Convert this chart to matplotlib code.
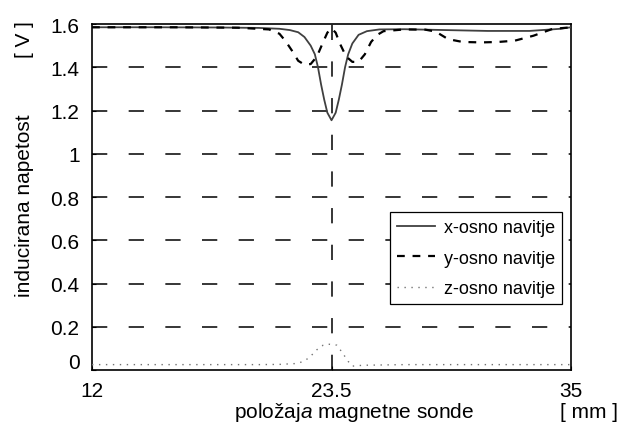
import numpy as np
import matplotlib.pyplot as plt
import matplotlib.transforms as mtransforms

plt.rcParams['font.family'] = ['Liberation Sans', 'DejaVu Sans']
plt.rcParams['mathtext.fontset'] = 'custom'
plt.rcParams['mathtext.rm'] = 'Liberation Sans'
plt.rcParams['mathtext.it'] = 'Liberation Sans:italic'

# x-osno navitje (solid)
x_pos = [12, 15, 18, 20, 21, 21.5, 21.9, 22.2, 22.5, 22.7, 22.85, 23.0, 23.15, 23.3, 23.5,
         23.7, 23.85, 24.0, 24.15, 24.3, 24.5, 24.8, 25.2, 25.8, 27, 29, 31, 33, 34.5, 35]
x_val = [1.585, 1.585, 1.584, 1.582, 1.578, 1.572, 1.562, 1.54, 1.50, 1.46, 1.40, 1.32, 1.25, 1.19, 1.155,
         1.19, 1.25, 1.32, 1.40, 1.46, 1.51, 1.55, 1.567, 1.575, 1.576, 1.572, 1.568, 1.568, 1.578, 1.585]

# y-osno navitje (dashed)
y_pos = [12, 16, 19, 20.5, 21.0, 21.3, 21.6, 21.9, 22.2, 22.5, 22.8, 23.1, 23.3, 23.5, 23.7, 23.9,
         24.2, 24.5, 24.8, 25.1, 25.4, 25.7, 26.0, 27, 28, 28.5, 29.1, 29.8, 30.7, 31.5, 32.3, 33.2, 34.1, 35]
y_val = [1.585, 1.585, 1.583, 1.575, 1.555, 1.52, 1.477, 1.43, 1.412, 1.415, 1.45, 1.517, 1.56, 1.58, 1.56, 1.51,
         1.45, 1.425, 1.425, 1.46, 1.517, 1.55, 1.567, 1.575, 1.574, 1.565, 1.53, 1.517, 1.515, 1.517, 1.523, 1.546, 1.577, 1.585]

# z-osno navitje (dotted)
z_pos = [12, 15, 18, 20, 21, 21.8, 22.1, 22.4, 22.6, 22.8, 23.1, 23.3, 23.5, 23.75, 24.0, 24.3, 24.5, 25.0, 27, 30, 33, 35]
z_val = [0.025, 0.025, 0.025, 0.025, 0.026, 0.03, 0.038, 0.055, 0.074, 0.094, 0.115, 0.12, 0.118, 0.115, 0.083,
         0.04, 0.018, 0.022, 0.025, 0.025, 0.025, 0.025]

x_ticks = [12, 23.5, 35]
y_ticks = [0, 0.2, 0.4, 0.6, 0.8, 1, 1.2, 1.4, 1.6]
y_ticklabels = ['0', '0.2', '0.4', '0.6', '0.8', '1', '1.2', '1.4', '1.6']

fig = plt.figure(figsize=(6.32, 4.27), dpi=100)
ax = fig.add_axes([0.1456, 0.1311, 0.7579, 0.8103])

# dashed grid
for v in y_ticks[1:-1]:
    ax.axhline(v, color='k', lw=1.1, dashes=(10, 14), zorder=1)
ax.axvline(23.5, color='k', lw=1.1, dashes=(10, 14), zorder=1)

ax.plot(x_pos, x_val, color='0.25', lw=1.3, label='x-osno navitje', zorder=3)
ax.plot(y_pos, y_val, color='k', lw=1.6, dashes=(3.5, 3.5), label='y-osno navitje', zorder=3)
ax.plot(z_pos, z_val, color='0.45', lw=1.0, dashes=(1, 4), label='z-osno navitje', zorder=3)

ax.set_xlim(12, 35)
ax.set_ylim(0, 1.6)
ax.set_xticks(x_ticks)
ax.set_xticklabels(['12', '23.5', '35'])
ax.set_yticks(y_ticks)
ax.set_yticklabels(y_ticklabels)
ax.tick_params(direction='in', length=3, labelsize=15, width=0.8)
ax.tick_params(axis='x', pad=8)
ax.tick_params(axis='y', pad=9)
for s in ax.spines.values():
    s.set_linewidth(1.2)

# the 0 label sits a bit higher in the original
lab0 = ax.get_yticklabels()[0]
lab0.set_transform(lab0.get_transform() + mtransforms.ScaledTranslation(0, 6.5 / 72, fig.dpi_scale_trans))

leg = ax.legend(loc='lower right', bbox_to_anchor=(0.982, 0.19), fontsize=13, frameon=True,
                fancybox=False, edgecolor='k', framealpha=1, handlelength=2.1, labelspacing=0.75,
                borderpad=0.4, handletextpad=0.5, borderaxespad=0)
leg.get_frame().set_linewidth(0.9)

fig.text(354 / 632, 1 - 418 / 427, r'položaj$\it{a}$ magnetne sonde', ha='center', va='baseline', fontsize=15)
fig.text(560 / 632, 1 - 418 / 427, '[ mm ]', ha='left', va='baseline', fontsize=15)
fig.text(25 / 632, 1 - 206 / 427, 'inducirana napetost', ha='center', va='center', rotation=90, fontsize=15)
fig.text(25 / 632, 1 - 40 / 427, '[ V ]', ha='center', va='center', rotation=90, fontsize=15)

fig.savefig('out.png', dpi=100)
